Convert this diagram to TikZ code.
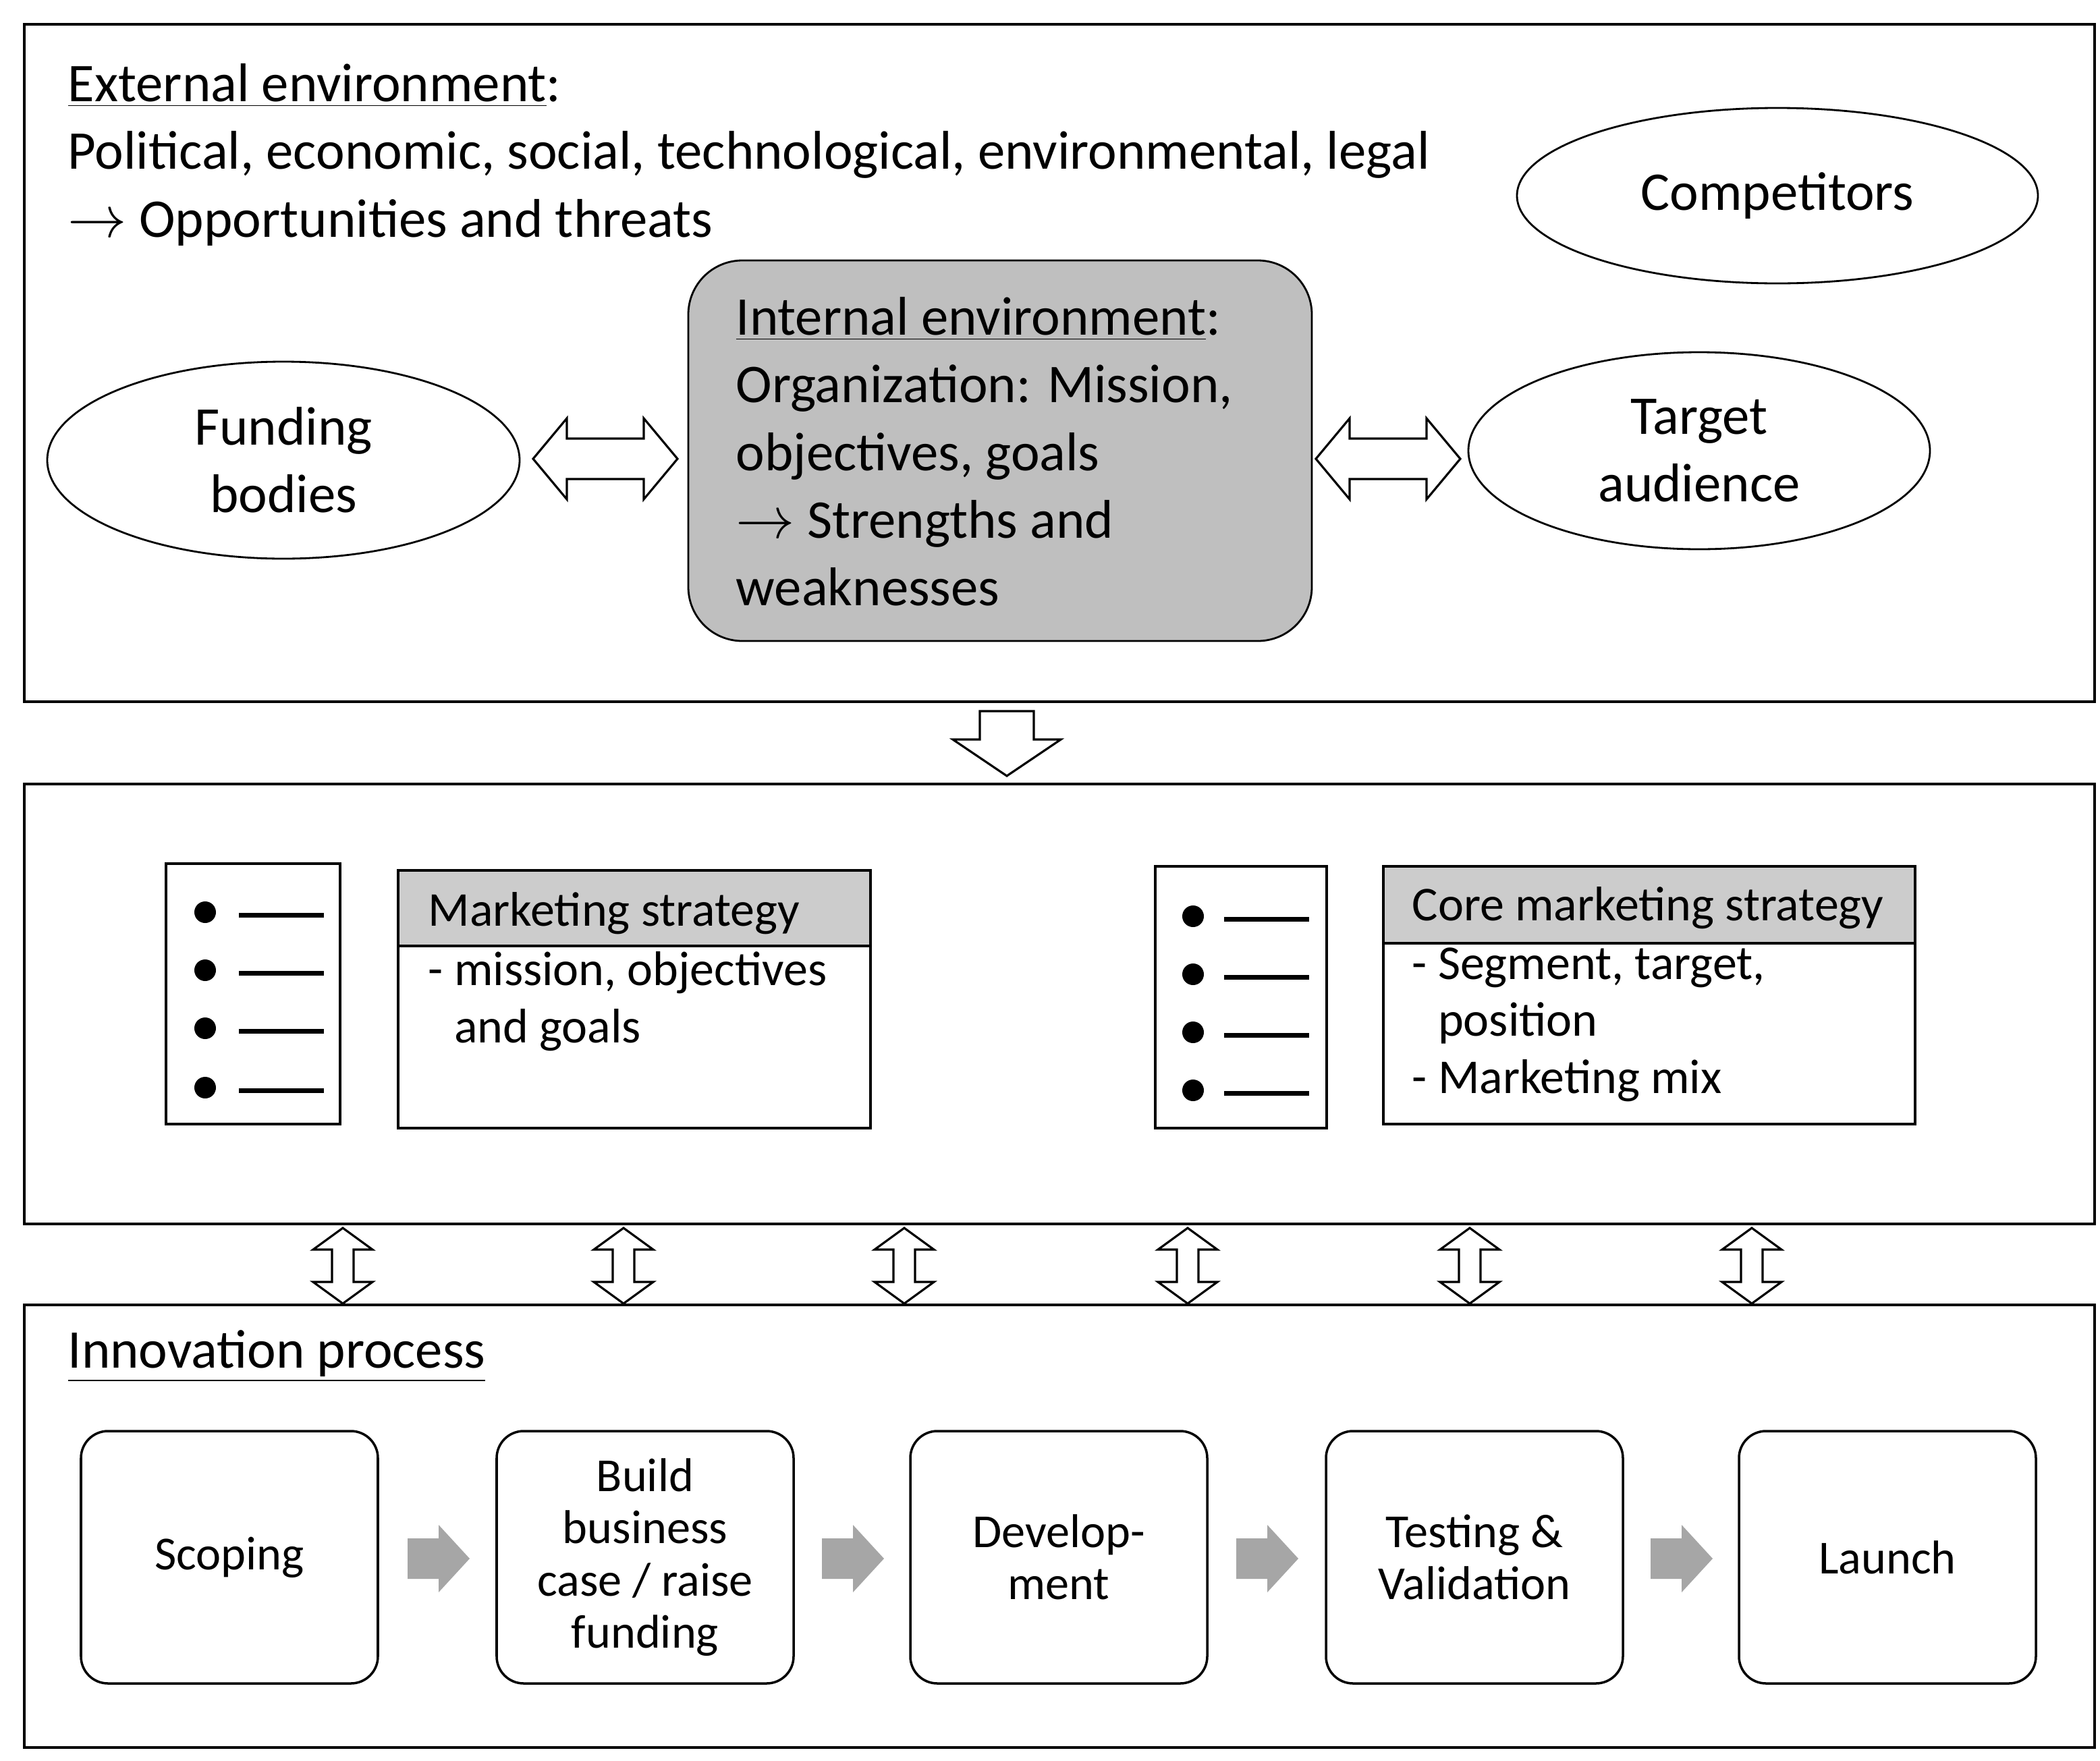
\documentclass[tikz,border=0pt]{standalone}
\usepackage{fontspec}
\setmainfont{Carlito}
\usetikzlibrary{shapes.geometric}
\begin{document}
\begin{tikzpicture}[x=0.02cm,y=-0.02cm,
  big/.style={font=\fontsize{23}{28.5}\selectfont},
  mid/.style={font=\fontsize{20.5}{24}\selectfont},
  sml/.style={font=\fontsize{20}{22}\selectfont},
  frame/.style={draw,line width=1.3pt},
  ell/.style={draw,ellipse,line width=0.8pt,big,align=center,inner sep=0pt},
  blk/.style={draw,line width=0.9pt,fill=white,line join=miter},
  garrow/.style={fill=black!35,draw=none},
  stepbox/.style={draw,rounded corners=0.4cm,line width=1pt,minimum width=220*0.02cm,minimum height=187*0.02cm,align=center,sml},
  icon/.style={draw,line width=1pt},
]
\useasboundingbox (0,0) rectangle (1556,1305);
% top box
\draw[frame] (18,18) rectangle (1552,520);
\node[big,anchor=north west,align=left,inner sep=0pt] (ext) at (50,47) {\underline{External environment}:\\Political, economic, social, technological, environmental, legal\\$\rightarrow$ Opportunities and threats};
\node[ell,minimum width=386*0.02cm,minimum height=130*0.02cm] (comp) at (1317,145) {Competitors};
\node[ell,minimum width=350*0.02cm,minimum height=146*0.02cm] (fund) at (210,341) {Funding\\bodies};
\node[ell,minimum width=342*0.02cm,minimum height=146*0.02cm] (targ) at (1259,334) {Target\\audience};
\node[draw,fill=black!25,rounded corners=0.8cm,line width=0.8pt,minimum width=462*0.02cm,minimum height=282*0.02cm] (int) at (741,334) {};
\node[big,anchor=north west,align=left,inner sep=0pt] (intt) at (545,220) {\underline{Internal environment}:\\Organization: Mission,\\objectives, goals\\$\rightarrow$ Strengths and\\weaknesses};
% horizontal double arrows
\foreach \x in {395,975}{
\draw[blk] (\x,340)--(\x+25,310)--(\x+25,325)--(\x+82,325)--(\x+82,310)--(\x+107,340)--(\x+82,370)--(\x+82,355)--(\x+25,355)--(\x+25,370)--cycle;}
% down arrow
\draw[blk] (726,527)--(766,527)--(766,548)--(786,548)--(746,575)--(706,548)--(726,548)--cycle;
% middle box
\draw[frame] (18,581) rectangle (1552,907);
\node[icon,minimum width=129*0.02cm,minimum height=193*0.02cm] (ic1) at (187.5,736.5) {};
\foreach \y in {676,719,762,806}{\fill (152,\y) circle (8); \draw[line width=2pt] (177,\y+2)--(240,\y+2);}
\draw[icon,fill=black!20] (295,645) rectangle (645,701);
\draw[icon] (295,645) rectangle (645,836);
\node[mid,anchor=west,inner sep=0pt] (ms) at (317,677) {Marketing strategy};
\node[mid,anchor=north west,align=left,inner sep=0pt] (mst) at (317,705) {- mission, objectives\\\hphantom{- }and goals};
\node[icon,minimum width=127*0.02cm,minimum height=194*0.02cm] (ic2) at (919.5,739) {};
\foreach \y in {679,722,765,808}{\fill (884,\y) circle (8); \draw[line width=2pt] (907,\y+2)--(970,\y+2);}
\draw[icon,fill=black!20] (1025,642) rectangle (1419,699);
\draw[icon] (1025,642) rectangle (1419,833);
\node[mid,anchor=west,inner sep=0pt] (cms) at (1046,673) {Core marketing strategy};
\node[mid,anchor=north west,align=left,inner sep=0pt] (cmst) at (1046,702) {- Segment, target,\\\hphantom{- }position\\- Marketing mix};
% vertical double arrows
\foreach \x in {254,462,670,880,1089,1298}{
\draw[blk] (\x,910)--(\x+22,926)--(\x+8,926)--(\x+8,950)--(\x+22,950)--(\x,966)--(\x-22,950)--(\x-8,950)--(\x-8,926)--(\x-22,926)--cycle;}
% bottom box
\draw[frame] (18,967) rectangle (1552,1295);
\node[big,anchor=west,inner sep=0pt] (inn) at (50,1005) {\underline{Innovation process}};
\node[stepbox] (s1) at (170,1154) {Scoping};
\node[stepbox] (s2) at (478,1154) {Build\\business\\case / raise\\funding};
\node[stepbox] (s3) at (784.5,1154) {Develop-\\ment};
\node[stepbox] (s4) at (1092.5,1154) {Testing \&\\Validation};
\node[stepbox] (s5) at (1398.5,1154) {Launch};
\foreach \x in {302,609,916,1223}{
\fill[garrow] (\x,1140)--(\x+23,1140)--(\x+23,1130)--(\x+46,1155)--(\x+23,1180)--(\x+23,1170)--(\x,1170)--cycle;}
\end{tikzpicture}
\end{document}
